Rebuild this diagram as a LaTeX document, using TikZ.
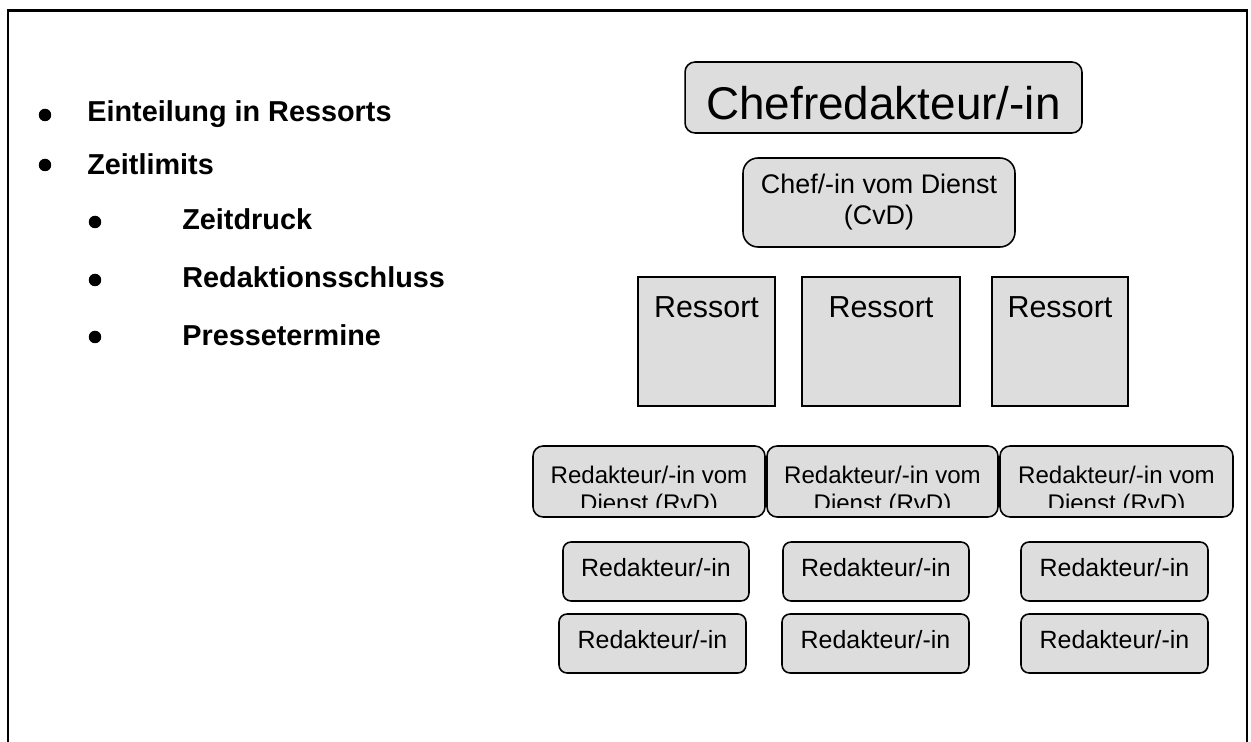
\documentclass[tikz,border=0pt]{standalone}
\usepackage{fontspec}
\setmainfont{Liberation Sans}
\definecolor{boxgray}{RGB}{221,221,221}
\tikzset{
  box/.style={draw, line width=0.9pt, fill=boxgray, inner sep=0pt},
  rbox/.style={box, rounded corners=0.2cm},
  chef/.style={rbox, minimum width=7.94cm, minimum height=1.42cm, text height=0.9cm, text depth=0pt, font=\fontsize{26.1}{31}\selectfont},
  cvd/.style={rbox, rounded corners=0.3cm, minimum width=5.44cm, minimum height=1.78cm, align=center, font=\fontsize{15.3}{17.6}\selectfont},
  ressort/.style={box, minimum height=2.58cm, label={[anchor=north, inner sep=0pt, yshift=-0.4cm, font=\fontsize{17.3}{20}\selectfont]north:Ressort}},
  rvd/.style={rbox, minimum height=1.42cm, path picture={
    \clip ([yshift=0.18cm]path picture bounding box.south west) rectangle (path picture bounding box.north east);
    \node[anchor=north, inner sep=0pt, minimum size=0pt, yshift=-0.38cm, align=center, font=\fontsize{13.7}{15.9}\selectfont] at (path picture bounding box.north) {Redakteur/-in vom\\Dienst (RvD)};}},
  red/.style={rbox, rounded corners=0.16cm, minimum height=1.18cm, text depth=0.18cm, font=\fontsize{14.2}{17}\selectfont},
  dot/.style={circle, fill, inner sep=0pt, minimum size=0.25cm},
  item/.style={anchor=base west, inner sep=0pt, font=\fontsize{16.4}{19}\selectfont\bfseries}
}

\begin{document}
\begin{tikzpicture}[x=0.02cm, y=-0.02cm]
\useasboundingbox (0,0) rectangle (1251,742);
\draw[line width=1.5pt] (8,742) -- (8,10.5) -- (1247,10.5) -- (1247,742);

\node[dot] (d1) at (45,115) {};
\node[item] (einteilung) at (87,122) {Einteilung in Ressorts};
\node[dot] (d2) at (45,165) {};
\node[item] (zeitlimits) at (87,175) {Zeitlimits};
\node[dot] (d3) at (95,222) {};
\node[item] (zeitdruck) at (182,230) {Zeitdruck};
\node[dot] (d4) at (95,280) {};
\node[item] (schluss) at (182,288) {Redaktionsschluss};
\node[dot] (d5) at (95,337) {};
\node[item] (termine) at (182,346) {Pressetermine};

\node[chef] (chef) at (883.5,97.5) {Chefredakteur/-in};
\node[cvd] (cvd) at (879,202.5) {Chef/-in vom Dienst\\(CvD)};

\node[ressort, minimum width=2.74cm] (res1) at (706.5,341.5) {};
\node[ressort, minimum width=3.16cm] (res2) at (881,341.5) {};
\node[ressort, minimum width=2.72cm] (res3) at (1060,341.5) {};

\node[rvd, minimum width=4.64cm] (rvd1) at (649,481.5) {};
\node[rvd, minimum width=4.62cm] (rvd2) at (882.5,481.5) {};
\node[rvd, minimum width=4.66cm] (rvd3) at (1116.5,481.5) {};

\node[red, minimum width=3.72cm] (red1a) at (656,571.5) {Redakteur/-in};
\node[red, minimum width=3.72cm] (red2a) at (876,571.5) {Redakteur/-in};
\node[red, minimum width=3.74cm] (red3a) at (1114.5,571.5) {Redakteur/-in};
\node[red, minimum width=3.74cm] (red1b) at (652.5,643.5) {Redakteur/-in};
\node[red, minimum width=3.74cm] (red2b) at (875.5,643.5) {Redakteur/-in};
\node[red, minimum width=3.74cm] (red3b) at (1114.5,643.5) {Redakteur/-in};
\end{tikzpicture}
\end{document}
